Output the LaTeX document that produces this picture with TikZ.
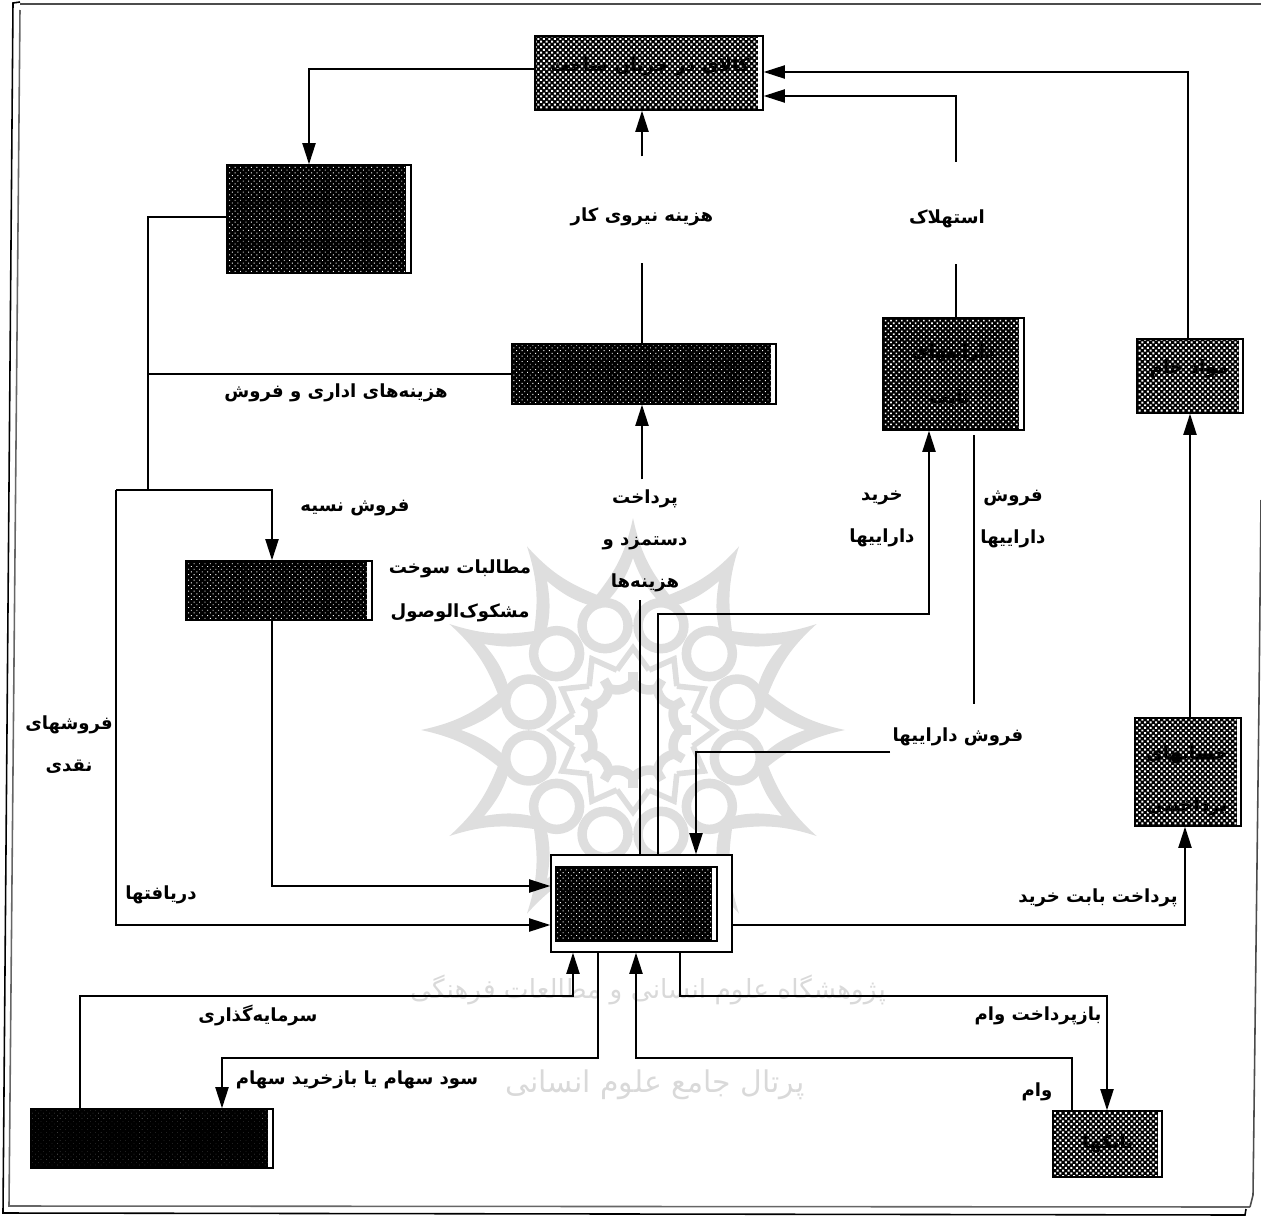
\documentclass[tikz,border=0pt]{standalone}
\usepackage{fontspec}
\usetikzlibrary{arrows.meta,patterns.meta}
\TeXXeTstate=1
\newfontfamily\arabicfont[Script=Arabic]{DejaVu Sans}
\newcommand{\fa}[1]{\beginR #1\endR}

\begin{document}
\begin{tikzpicture}[
  x=0.02cm, y=-0.02cm,
  line width=0.85pt,
  >={Triangle[length=12pt,width=7.5pt]},
  box/.style={draw, inner sep=0pt, align=center, fill=white,
    path picture={%
      \fill[black] (path picture bounding box.south west)
        rectangle ([xshift=-0.09cm]path picture bounding box.north east);
      \fill[pattern={Dots[distance=2.2pt,radius=#1,angle=45]}, pattern color=white]
        (path picture bounding box.south west)
        rectangle ([xshift=-0.09cm]path picture bounding box.north east);}},
  boxlight/.style={box=0.8pt},
  boxmid/.style={box=0.62pt},
  boxdark/.style={box=0.38pt},
  boxblack/.style={box=0.12pt},
  lbl/.style={inner sep=1pt, align=center,
    font=\arabicfont\bfseries\fontsize{10.3}{12}\selectfont},
  boxlbl/.style={font=\arabicfont\bfseries\fontsize{10.5}{13}\selectfont},
  wmk/.style={black!13, line width=5.4pt},
  wmtext/.style={text=black!15, inner sep=0pt}
]
\useasboundingbox (0,0) rectangle (1261,1217);

% ---------- watermark ----------
\begin{scope}[shift={(633,730)}]
  \fill[black!13, even odd rule]
    (0:212) foreach \a in {0,30,...,330} {
      to[bend right=13] (\a+15:140) to[bend right=13] (\a+30:212) } -- cycle
    (0:172) foreach \a in {0,30,...,330} {
      to[bend right=13] (\a+15:126) to[bend right=13] (\a+30:172) } -- cycle;
  \foreach \a in {0,30,...,330} {
    \draw[wmk] (\a+15:108) circle (23);
    \draw[wmk] (\a:48) to[bend right=35] (\a+30:48);
    \draw[wmk] (\a:48) -- (\a:58);
    \draw[wmk, line width=3.2pt] (\a+15:62) -- (\a:82) -- (\a-15:62);
  }
\end{scope}
\node[wmtext, font=\arabicfont\fontsize{15}{18}\selectfont] (wmA) at (648,990)
  {\fa{پژوهشگاه علوم انسانی و مطالعات فرهنگی}};
\node[wmtext, font=\arabicfont\fontsize{17}{20}\selectfont] (wmB) at (655,1085)
  {\fa{پرتال جامع علوم انسانی}};

% ---------- page frame ----------
\draw[line width=0.9pt] (20,2) -- (13,3) -- (3,1213) -- (1245,1215) -- (1246,1209);
\draw[black!60, line width=0.9pt] (20,10) -- (9,1206) -- (1250,1207);
\draw[black!70, line width=0.9pt] (1250,1207) -- (1253,1195) -- (1259,700) -- (1261,500);
\draw[black!70, line width=0.9pt] (20,4) -- (1261,4);

% ---------- boxes ----------
\node[boxlight, minimum width=4.56cm, minimum height=1.48cm] (wip) at (649,73) {};
\node[boxdark,  minimum width=3.68cm, minimum height=2.16cm] (fg)  at (319,219) {};
\node[boxdark,  minimum width=5.28cm, minimum height=1.2cm]  (lab) at (644,374) {};
\node[boxmid,   minimum width=2.82cm, minimum height=2.24cm] (fix) at (953.5,374) {};
\node[boxlight, minimum width=2.12cm, minimum height=1.48cm] (raw) at (1190,376) {};
\node[boxdark,  minimum width=3.72cm, minimum height=1.18cm] (rec) at (279,590.5) {};
\node[boxlight, minimum width=2.12cm, minimum height=2.16cm] (pay) at (1188,772) {};
\node[boxblack, minimum width=4.84cm, minimum height=1.18cm] (hol) at (152,1138.5) {};
\node[boxlight, minimum width=2.18cm, minimum height=1.32cm] (bnk) at (1107.5,1144) {};
% cash: inner box inside a plain frame
\node[draw, fill=white, minimum width=3.62cm, minimum height=1.94cm] (cash) at (641.5,903.5) {};
\node[boxdark,  minimum width=3.22cm, minimum height=1.48cm] (cin) at (636.5,904) {};

% ---------- text in boxes ----------
\node[boxlbl] (twip) at (650,67) {\fa{کالای در جریان ساخت}};
\node[boxlbl] (tfix) at (953,353) {\fa{داراییهای}};
\node[boxlbl] (tfi2) at (950,398) {\fa{ثابت}};
\node[boxlbl] (traw) at (1189,369) {\fa{مواد خام}};
\node[boxlbl] (tpay) at (1187,755) {\fa{حسابهای}};
\node[boxlbl] (tpa2) at (1187,807) {\fa{پرداختنی}};
\node[boxlbl] (tbnk) at (1108,1144) {\fa{بانکها}};

% ---------- labels ----------
\node[lbl, minimum height=1.8cm] (lWage) at (642,217) {\fa{هزینه نیروی کار}};
\node[lbl, minimum height=1.76cm] (lDep) at (947,219) {\fa{استهلاک}};
\node[lbl] (lAdm) at (336,393) {\fa{هزینه‌های اداری و فروش}};
\node[lbl] (lCrd) at (355,508) {\fa{فروش نسیه}};
\node[lbl] (lBad) at (460,591) {\fa{مطالبات سوخت}\\[13pt]\fa{مشکوک‌الوصول}};
\node[lbl, minimum height=2.44cm] (lPay) at (645,541) {\fa{پرداخت}\\[12pt]\fa{دستمزد و}\\[12pt]\fa{هزینه‌ها}};
\node[lbl] (lBuy) at (882,519) {\fa{خرید}\\[12pt]\fa{داراییها}};
\node[lbl] (lSel) at (1013,519) {\fa{فروش}\\[12pt]\fa{داراییها}};
\node[lbl, minimum height=1.28cm] (lSal) at (958,737) {\fa{فروش داراییها}};
\node[lbl] (lCsh) at (69,745) {\fa{فروشهای}\\[12pt]\fa{نقدی}};
\node[lbl] (lRcv) at (161,895) {\fa{دریافتها}};
\node[lbl] (lPur) at (1098,898) {\fa{پرداخت بابت خرید}};
\node[lbl] (lInv) at (258,1015) {\fa{سرمایه‌گذاری}};
\node[lbl] (lDiv) at (357,1080) {\fa{سود سهام یا بازخرید سهام}};
\node[lbl] (lRep) at (1038,1016) {\fa{بازپرداخت وام}};
\node[lbl] (lLoa) at (1037,1092) {\fa{وام}};

% ---------- junction points ----------
\coordinate (jWip) at (309,69);
\coordinate (jDep) at (956,96);
\coordinate (jRaw) at (1188,72);
\coordinate (jFg)  at (148,217);
\coordinate (jAdm) at (148,374);
\coordinate (jTop) at (148,490);
\coordinate (jL)   at (116,490);
\coordinate (jR)   at (272,490);
\coordinate (jLb)  at (116,925);
\coordinate (jRec) at (272,886);
\coordinate (jPay) at (640,600);
\coordinate (jBuy) at (658,614);
\coordinate (jBuy2) at (929,614);
\coordinate (jSel) at (974,435);
\coordinate (jSal) at (696,752);
\coordinate (jPur) at (1185,925);
\coordinate (jInv) at (80,996);
\coordinate (jInv2) at (573,996);
\coordinate (jDiv) at (598,1058);
\coordinate (jDiv2) at (222,1058);
\coordinate (jRep) at (680,996);
\coordinate (jRep2) at (1107,996);
\coordinate (jLoa) at (1072,1058);
\coordinate (jLoa2) at (636,1058);

% ---------- top part ----------
\draw[->] (wip.west |- jWip) -- (jWip) -- (fg.north -| jWip);
\draw (lab.north -| lWage) -- (lWage.south);
\draw[->, shorten <=0.3cm] (lWage.north) -- (wip.south -| lWage);
\draw (fix.north -| jDep) -- (lDep.south -| jDep);
\draw[->, shorten <=0.25cm] (lDep.north -| jDep) -- (jDep) -- (wip.east |- jDep);
\draw[->] (raw.north -| jRaw) -- (jRaw) -- (wip.east |- jRaw);

% ---------- left part ----------
\draw (fg.west |- jFg) -- (jFg) -- (jTop);
\draw (jAdm) -- (lab.west |- jAdm);
\draw[->] (jL) -- (jR) -- (rec.north -| jR);
\draw[->] (jL) -- (jLb) -- (cash.west |- jLb);
\draw[->] (rec.south -| jRec) -- (jRec) -- (cash.west |- jRec);

% ---------- cash outflows ----------
\draw (cash.north -| jPay) -- (jPay);
\draw[->] (lPay.north -| lWage) -- (lab.south -| lWage);
\draw[->] (cash.north -| jBuy) -- (jBuy) -- (jBuy2) -- (fix.south -| jBuy2);
\draw (jSel) -- (lSal.north -| jSel);
\draw[->] (lSal.west |- jSal) -- (jSal) -- (cash.north -| jSal);
\draw[->] (cash.east |- jPur) -- (jPur) -- (pay.south -| jPur);
\draw[->] (pay.north -| raw) -- (raw.south);

% ---------- lower part ----------
\draw[->] (hol.north -| jInv) -- (jInv) -- (jInv2) -- (cash.south -| jInv2);
\draw[->] (cash.south -| jDiv) -- (jDiv) -- (jDiv2) -- (hol.north -| jDiv2);
\draw[->] (cash.south -| jRep) -- (jRep) -- (jRep2) -- (bnk.north -| jRep2);
\draw[->] (bnk.north -| jLoa) -- (jLoa) -- (jLoa2) -- (cash.south -| jLoa2);

\end{tikzpicture}
\end{document}
